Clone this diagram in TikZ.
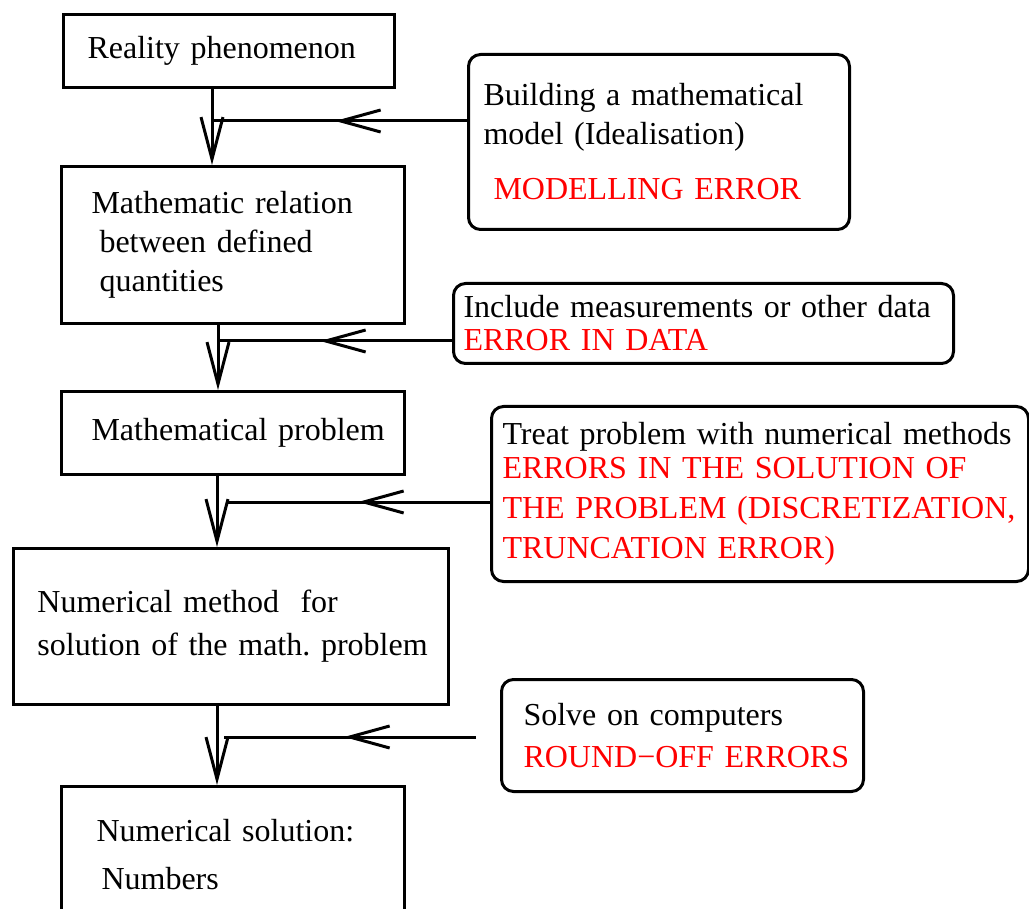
\documentclass[tikz,border=0pt]{standalone}
\usepackage{fontspec}
\setmainfont{Liberation Serif}
\usetikzlibrary{arrows.meta,decorations.markings,calc}

\tikzset{
  stage/.style={draw, line width=3pt, anchor=north west, align=left,
    inner xsep=0pt, inner ysep=0pt, font=\fontsize{32}{39}\selectfont},
  source/.style={stage, rounded corners=12pt},
  flow/.style={line width=3pt, -{Straight Barb[length=42pt,width=22pt]}},
  feed/.style={line width=3pt, postaction={decorate},
    decoration={markings,
      mark=at position 132pt with {\arrow{Straight Barb[length=40pt,width=22pt]}}}},
}

\begin{document}
\begin{tikzpicture}[x=1pt, y=-1pt]

  \useasboundingbox (0,0) rectangle (1029,909);
  \clip (0,0) rectangle (1029,909);

  % Main chain
  \node[stage, text width=331pt, minimum height=73pt] (b1) at (62,13)
  {\hspace*{24pt}Reality phenomenon};
  \node[stage, text width=343pt, minimum height=157pt] (b2) at (60,165)
  {\hspace*{30pt}Mathematic relation\\
   \hspace*{38pt}between defined\\
   \hspace*{38pt}quantities};
  \node[stage, text width=343pt, minimum height=83pt] (b3) at (60,390)
  {\hspace*{30pt}Mathematical problem};
  \node[stage, text width=435pt, minimum height=156pt] (b4) at (12,547)
  {\hspace*{24pt}Numerical method\ \ for\\[4pt]
   \hspace*{24pt}solution of the math.\ problem};
  \node[stage, text width=343pt, minimum height=136pt] (b5) at (60,785)
  {\hspace*{35pt}Numerical solution:\\[9pt]
   \hspace*{40pt}Numbers};

  % Error sources
  \node[source, text width=381pt, minimum height=175pt] (r1) at (467,53)
  {\hspace*{15pt}Building a mathematical\\
   \hspace*{15pt}model (Idealisation)\\[16pt]
   \hspace*{25pt}\color{red}MODELLING ERROR};
  \node[source, text width=500pt, minimum height=80pt] (r2) at (452,282)
  {\hspace*{10pt}Include measurements or other data\\[-6pt]
   \hspace*{10pt}\color{red}ERROR IN DATA};
  \node[source, text width=537pt, minimum height=175pt] (r3) at (490,405)
  {\hspace*{11pt}Treat problem with numerical methods\\[-5pt]
   \color{red}\hspace*{11pt}ERRORS IN THE SOLUTION OF\\[1pt]
   \hspace*{11pt}THE PROBLEM (DISCRETIZATION,\\[1pt]
   \hspace*{11pt}TRUNCATION ERROR)};
  \node[source, text width=362pt, minimum height=112pt] (r4) at (500,678)
  {\hspace*{22pt}Solve on computers\\[3pt]
   \hspace*{22pt}\color{red}ROUND−OFF ERRORS};

  % Junctions
  \coordinate (j1) at (212,121);
  \coordinate (j2) at (218,341);
  \coordinate (j3) at (228,502);
  \coordinate (j4) at (224,737);

  % Flow arrows
  \draw[flow] ([xshift=150pt]b1.south west) -- ([xshift=152pt]b2.north west);
  \draw[flow] ([xshift=158pt]b2.south west) -- ([xshift=158pt]b3.north west);
  \draw[flow] ([xshift=157pt]b3.south west) -- ([xshift=205pt]b4.north west);
  \draw[flow] ([xshift=205pt]b4.south west) -- ([xshift=157pt]b5.north west);

  % Feeds
  \draw[feed] (r1.west |- j1) -- (j1);
  \draw[feed] (r2.west |- j2) -- (j2);
  \draw[feed] (r3.west |- j3) -- (j3);
  \draw[feed] ($(r4.west |- j4)+(-24,0)$) -- (j4);

\end{tikzpicture}
\end{document}
